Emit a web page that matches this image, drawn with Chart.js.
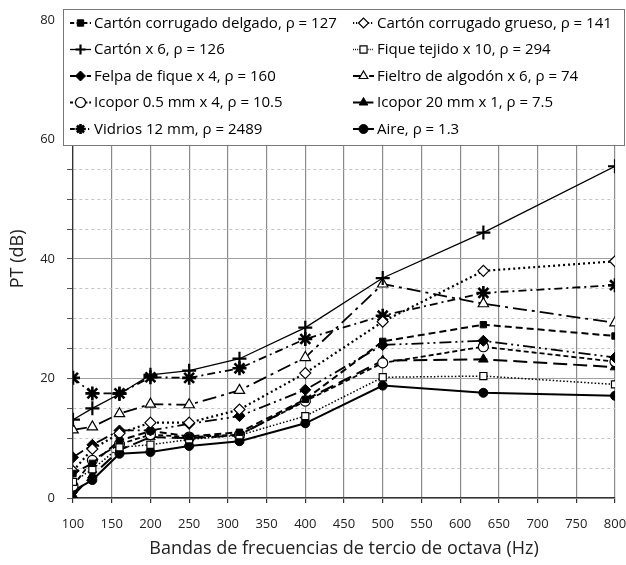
<!DOCTYPE html>
<html>
<head>
<meta charset="utf-8">
<script src="https://cdn.jsdelivr.net/npm/chart.js@4/dist/chart.umd.min.js"></script>
<style>
  html, body { margin: 0; padding: 0; background: #fff; }
  #wrap { width: 626px; height: 565px; }
</style>
</head>
<body>
<div id="wrap"><canvas id="chart" width="626" height="565"></canvas></div>
<script>
const freqs = [100, 125, 160, 200, 250, 315, 400, 500, 630, 800];

const delgado  = [4.1, 5.8, 9.6, 11.2, 10.3, 11.0, 16.5, 26.2, 29.0, 27.1];
const grueso   = [4.5, 8.2, 10.8, 12.6, 12.6, 14.8, 20.9, 29.5, 38.0, 39.6];
const carton6  = [13.1, 15.0, 17.4, 20.6, 21.3, 23.3, 28.5, 36.8, 44.4, 55.5];
const fique    = [2.7, 4.8, 8.5, 8.9, 9.8, 10.5, 13.7, 20.2, 20.4, 19.0];
const felpa    = [6.8, 8.9, 11.3, 11.3, 12.4, 13.7, 18.1, 25.6, 26.3, 23.5];
const fieltro  = [11.4, 11.9, 14.1, 15.7, 15.6, 18.0, 23.5, 35.8, 32.5, 29.3];
const icopor05 = [2.0, 6.3, 9.0, 10.6, 10.2, 10.6, 16.2, 22.6, 25.3, 22.8];
const icopor20 = [0.4, 3.8, 8.0, 10.2, 10.0, 10.5, 16.4, 23.0, 23.2, 21.9];
const vidrios  = [20.1, 17.5, 17.5, 20.2, 20.1, 21.7, 26.6, 30.5, 34.3, 35.6];
const aire     = [1.2, 3.0, 7.4, 7.7, 8.7, 9.5, 12.5, 18.8, 17.6, 17.1];

const labels = [
  "Cartón corrugado delgado, ρ = 127",
  "Cartón corrugado grueso, ρ = 141",
  "Cartón x 6, ρ = 126",
  "Fique tejido x 10, ρ = 294",
  "Felpa de fique x 4, ρ = 160",
  "Fieltro de algodón x 6, ρ = 74",
  "Icopor 0.5 mm x 4, ρ = 10.5",
  "Icopor 20 mm x 1, ρ = 7.5",
  "Vidrios 12 mm, ρ = 2489",
  "Aire, ρ = 1.3"
];

const FONT = "'Open Sans', 'DejaVu Sans', sans-serif";

function pts(arr) {
  return freqs.map((f, i) => ({ x: f, y: arr[i] }));
}

function series(label, arr, style, filled, radius, dash, width, bw) {
  return {
    label: label,
    data: pts(arr),
    borderColor: "#000",
    backgroundColor: filled ? "#000" : "#fff",
    pointStyle: style,
    pointRadius: radius,
    pointBorderWidth: bw,
    pointBorderColor: "#000",
    pointBackgroundColor: filled ? "#000" : "#fff",
    borderWidth: width,
    borderDash: dash,
    tension: 0,
    fill: false
  };
}

const datasets = [
  series(labels[0], delgado,  "rect",     true,  4.5, [7, 4], 2, 1),
  series(labels[1], grueso,   "rectRot",  false, 5.5, [2, 3], 2.2, 1.2),
  series(labels[2], carton6,  "cross",    false, 7,   [], 1.3, 2.2),
  series(labels[3], fique,    "rect",     false, 5,   [1.5, 2], 1.5, 1.2),
  series(labels[4], felpa,    "rectRot",  true,  5.5, [12, 4, 2, 4, 2, 4], 1.8, 1),
  series(labels[5], fieltro,  "triangle", false, 6,   [14, 5, 3, 5], 1.8, 1.2),
  series(labels[6], icopor05, "circle",   false, 5,   [5, 3], 1.8, 1.2),
  series(labels[7], icopor20, "triangle", true,  5.5, [14, 6], 2, 1),
  series(labels[8], vidrios,  "star",     false, 7,   [8, 4, 2, 4], 1.8, 2.6),
  series(labels[9], aire,     "circle",   true,  4.5, [], 2, 1)
];

// legend drawn inside the plot, two columns like the original
const boxLegend = {
  id: "boxLegend",
  afterDraw(chart) {
    const ctx = chart.ctx;
    const x0 = 63, y0 = 9, x1 = 625, y1 = 146;
    ctx.save();
    ctx.fillStyle = "#fff";
    ctx.fillRect(x0, y0, x1 - x0, y1 - y0);
    ctx.strokeStyle = "#777";
    ctx.lineWidth = 1;
    ctx.strokeRect(x0 + 0.5, y0 + 0.5, x1 - x0 - 1, y1 - y0 - 1);

    // fit font so the first label is about as wide as in the original
    ctx.font = "14px " + FONT;
    const w = ctx.measureText(labels[0]).width;
    const size = Math.min(16, 14 * 243 / w);
    ctx.font = size.toFixed(2) + "px " + FONT;
    ctx.textBaseline = "middle";
    ctx.textAlign = "left";

    const rowY = [23, 49.5, 76, 102.5, 129];
    const colX = [70, 353];
    chart.data.datasets.forEach((ds, i) => {
      const cx = colX[i % 2];
      const cy = rowY[Math.floor(i / 2)];
      ctx.save();
      ctx.strokeStyle = "#000";
      ctx.lineWidth = ds.borderWidth;
      ctx.setLineDash(ds.borderDash.length ? ds.borderDash.map(v => v * 0.6) : []);
      ctx.beginPath();
      ctx.moveTo(cx, cy);
      ctx.lineTo(cx + 21, cy);
      ctx.stroke();
      ctx.setLineDash([]);
      ctx.fillStyle = ds.pointBackgroundColor;
      ctx.strokeStyle = "#000";
      ctx.lineWidth = ds.pointBorderWidth;
      if (Chart.helpers && Chart.helpers.drawPoint) {
        Chart.helpers.drawPoint(ctx, {
          pointStyle: ds.pointStyle,
          radius: Math.min(ds.pointRadius, 5),
          borderWidth: ds.pointBorderWidth,
          rotation: 0
        }, cx + 10.5, cy);
      }
      ctx.restore();
      ctx.fillStyle = "#000";
      ctx.fillText(ds.label, cx + 24, cy + 0.5);
    });
    ctx.restore();
  }
};

new Chart(document.getElementById("chart"), {
  type: "line",
  data: { datasets: datasets },
  plugins: [boxLegend],
  options: {
    responsive: false,
    animation: false,
    devicePixelRatio: 1,
    layout: { padding: { left: 0, right: 11, top: 12, bottom: 0 } },
    plugins: {
      legend: { display: false },
      tooltip: { enabled: false }
    },
    scales: {
      x: {
        type: "linear",
        min: 100,
        max: 800,
        ticks: {
          stepSize: 50,
          autoSkip: false,
          maxRotation: 0,
          color: "#222",
          padding: 13,
          font: { family: FONT, size: 13 }
        },
        grid: { color: "#8a8a8a", lineWidth: 1.2, tickLength: 5, tickColor: "#333" },
        border: { color: "#333", width: 1.3 },
        title: {
          display: true,
          text: "Bandas de frecuencias de tercio de octava (Hz)",
          color: "#222",
          font: { family: FONT, size: 18 },
          padding: { top: 0, bottom: 5 }
        },
        afterFit(scale) {
          scale.height = 67;
          scale.paddingRight = 0;
          scale.paddingLeft = 0;
        }
      },
      y: {
        min: 0,
        max: 80,
        ticks: {
          stepSize: 5,
          autoSkip: false,
          color: "#222",
          padding: 12,
          font: { family: FONT, size: 13 },
          callback: v => (v % 20 === 0 ? v : "")
        },
        grid: {
          color: ctx => (ctx.tick && ctx.tick.value % 20 !== 0 ? "#c4c4c4" : "#a0a0a0"),
          lineWidth: 1,
          tickLength: 6,
          tickColor: "#555"
        },
        border: {
          color: "#333",
          width: 1.3,
          dash: ctx => (ctx.tick && ctx.tick.value % 20 !== 0 ? [3, 3] : [])
        },
        title: {
          display: true,
          text: "PT (dB)",
          color: "#222",
          font: { family: FONT, size: 18 },
          padding: { top: 7, bottom: 0 }
        },
        afterFit(scale) {
          scale.width = 73;
        }
      }
    }
  }
});
</script>
</body>
</html>
